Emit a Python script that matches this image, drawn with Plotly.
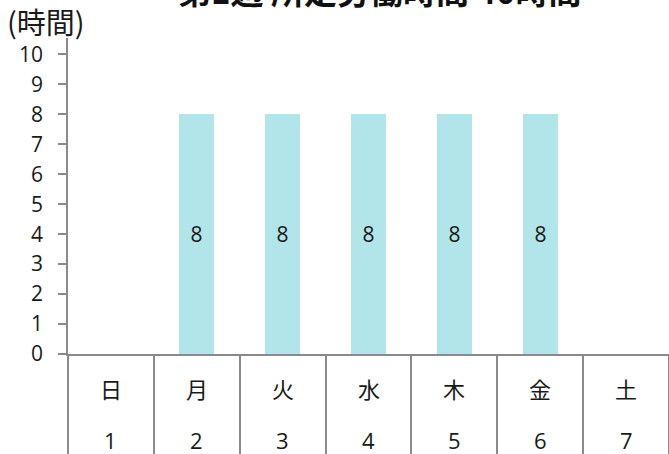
import plotly.graph_objects as go

weekdays = ["日", "月", "火", "水", "木", "金", "土"]
day_numbers = ["1", "2", "3", "4", "5", "6", "7"]
hours = [None, 8, 8, 8, 8, 8, None]
title_text = "第1週 所定労働時間 40時間"
y_unit = "(時間)"

font_jp = "Noto Sans CJK JP"
font_num = "Open Sans, Noto Sans CJK JP"
grey = "#8a8a8e"
ink = "#1a1a1a"

x_idx = list(range(len(weekdays)))
labels = [str(v) if v is not None else "" for v in hours]

fig = go.Figure()
fig.add_trace(go.Bar(
    x=x_idx, y=hours, width=0.41,
    marker=dict(color="#b1e5ea", line=dict(width=0)),
    text=labels, textposition="inside", insidetextanchor="middle",
    textangle=0, constraintext="none",
    textfont=dict(size=21, color=ink, family=font_num),
    hoverinfo="skip",
))

# category dividers drawn by a secondary x axis with long outside ticks
fig.add_trace(go.Scatter(x=[-0.5, 6.5], y=[None, None], xaxis="x2",
                         showlegend=False, hoverinfo="skip"))

fig.update_layout(
    width=669, height=454,
    margin=dict(l=68, r=0, t=38, b=100, autoexpand=False),
    plot_bgcolor="white", paper_bgcolor="white",
    showlegend=False, bargap=0,
    yaxis=dict(range=[0, 10.55], tickvals=list(range(0, 11)), ticks="outside", ticklen=8,
               tickcolor=grey, tickwidth=1.5, showline=True, linecolor=grey, linewidth=1.5,
               showgrid=False, zeroline=False, automargin=False, ticklabelstandoff=11,
               tickfont=dict(size=21, color=ink, family=font_num)),
    xaxis=dict(range=[-0.5, 6.5], tickvals=x_idx, ticktext=["" for _ in x_idx],
               showgrid=False, zeroline=False, automargin=False,
               showline=True, linecolor=grey, linewidth=1.5, ticks=""),
    xaxis2=dict(range=[-0.5, 6.5], overlaying="x", side="bottom", anchor="y",
                tickvals=[i - 0.5 for i in range(len(weekdays) + 1)],
                ticktext=["" for _ in range(len(weekdays) + 1)],
                ticks="outside", ticklen=100, tickwidth=1.5, tickcolor=grey,
                showgrid=False, zeroline=False, showline=False, automargin=False),
)

for i, (d, n) in enumerate(zip(weekdays, day_numbers)):
    fig.add_annotation(x=i, y=0, xref="x", yref="paper", yanchor="middle", yshift=-34,
                       text=d, showarrow=False,
                       font=dict(size=22, color=ink, family=font_jp))
    fig.add_annotation(x=i, y=0, xref="x", yref="paper", yanchor="middle", yshift=-86,
                       text=n, showarrow=False,
                       font=dict(size=22, color=ink, family=font_num))

fig.add_annotation(text="<b>" + title_text + "</b>", xref="paper", yref="paper",
                   x=(379 - 68) / 601, y=1.0, xanchor="center", yanchor="middle",
                   yshift=48, showarrow=False,
                   font=dict(size=33, color="#111", family=font_jp))
fig.add_annotation(text=y_unit, xref="paper", yref="paper", x=-63 / 601, y=1.0,
                   xanchor="left", yanchor="middle", yshift=17, showarrow=False,
                   font=dict(size=29, color=ink, family=font_jp))
fig.add_shape(type="line", xref="paper", yref="paper", x0=-8 / 601, x1=0, y0=0, y1=0,
              line=dict(color=grey, width=1.5))
fig.write_html("out.html", config=dict(displayModeBar=False),
               post_script="document.body.style.margin='0';")
